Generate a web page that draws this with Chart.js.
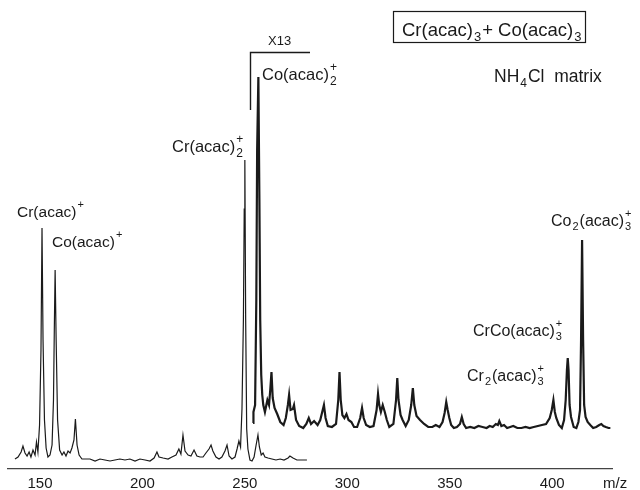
<!DOCTYPE html>
<html>
<head>
<meta charset="utf-8">
<script src="https://cdn.jsdelivr.net/npm/chart.js@4/dist/chart.umd.min.js"></script>
<style>
  html, body { margin: 0; padding: 0; background: #ffffff; }
  #wrap { width: 640px; height: 490px; }
</style>
</head>
<body>
<div id="wrap"><canvas id="c" width="640" height="490"></canvas></div>
<script>
// ---- Data (m/z, relative intensity in arbitrary units) ----
// Main spectrum (full scale)
const mainMz = [137.8,139.3,140.8,141.7,142.7,143.7,144.7,145.6,146.6,147.6,148.3,149.0,149.8,150.5,151.0,151.5,152.2,153.0,153.9,154.9,155.9,156.6,157.0,157.4,157.9,158.6,159.6,160.8,161.7,162.7,163.7,164.7,165.6,166.6,167.3,168.1,169.1,170.5,174.4,176.9,179.3,181.7,184.2,186.6,189.0,191.5,193.9,196.4,198.8,201.3,203.7,205.7,207.1,208.1,210.1,212.5,214.4,216.4,217.8,218.8,219.8,220.8,222.3,223.7,225.2,226.6,228.1,229.6,231.0,232.5,233.5,234.4,235.9,237.4,238.8,240.3,241.3,242.3,243.7,245.2,246.2,247.1,247.9,248.6,249.3,249.7,250.0,250.4,250.9,251.5,252.5,253.5,254.5,255.5,256.4,257.1,258.0,258.9,259.8,261.3,263.2,265.2,267.2,269.1,271.1,272.0,273.5,275.4,277.9,280.3];
const mainInt = [10,12,17,23,16,13,17,12,19,14,27,17,44,119,241,129,49,21,12,14,24,69,139,199,129,49,19,14,17,13,18,16,21,29,50,24,14,10,10,8,10,9,8,9,10,9,10,8,10,9,8,11,17,12,11,10,12,14,20,15,34,18,14,13,19,13,12,12,16,20,24,18,12,10,12,18,24,13,10,12,20,28,22,60,150,260,309,150,40,20,9,8,12,24,34,22,14,16,12,11,10,9,10,9,11,13,11,9,9,9];

// Expanded trace (x13), drawn above the main trace
const x13Mz = [254.0,254.2,255.0,255.6,256.0,256.6,257.1,257.5,258.0,258.5,259.0,259.8,261.0,261.8,262.4,263.0,263.6,264.5,265.8,267.3,268.9,270.0,271.0,271.6,272.3,273.4,274.0,275.0,276.5,278.5,280.0,281.2,282.3,283.8,285.5,286.8,288.0,288.6,289.4,290.5,292.5,294.5,295.6,296.2,296.8,297.6,298.6,299.6,300.6,302.0,303.3,304.8,306.3,307.2,308.0,309.2,311.0,312.8,314.3,315.0,315.6,316.4,317.3,318.3,319.3,320.5,322.5,323.8,324.4,325.0,326.0,327.0,328.5,330.0,331.2,332.0,332.7,333.8,335.5,337.5,339.5,341.5,343.2,345.0,346.5,347.5,348.3,349.0,349.8,350.7,352.0,353.5,355.0,355.9,356.8,358.0,360.0,362.0,364.0,366.0,368.0,369.5,371.0,372.5,373.5,374.2,375.2,376.5,378.0,379.5,381.0,383.0,385.0,387.0,389.0,391.0,393.0,395.0,397.0,398.8,399.8,400.6,401.3,402.0,403.3,404.7,405.8,406.6,407.2,407.6,408.0,408.5,409.2,410.5,411.8,412.8,413.6,414.1,414.6,415.1,415.6,416.3,417.3,418.6,420.0,421.5,423.0,424.0,425.0,426.2,427.5,428.4];
const x13Int = [46,57,64,169,319,392,269,149,94,74,64,57,69,64,79,97,71,61,55,47,44,51,64,74,59,60,64,49,43,41,45,51,45,48,44,49,59,64,51,43,42,45,69,97,69,54,51,55,49,47,42,42,51,61,51,44,42,43,59,75,64,57,64,57,49,42,45,69,91,69,54,49,43,49,64,81,64,53,49,45,42,42,44,42,47,56,67,59,51,44,41,42,45,52,45,41,42,41,43,42,41,43,42,45,44,48,43,44,41,42,43,41,41,42,41,42,43,44,45,51,59,69,57,51,44,41,49,69,99,111,99,64,52,42,41,47,59,129,229,129,64,52,47,44,41,42,44,45,43,42,41,41];

// Axis
const xTicks = [150, 200, 250, 300, 350, 400];
const xMin = 134.4, xMax = 429.2;
const yMin = 0, yMax = 469;

const FONT = '"Liberation Sans", "DejaVu Sans", sans-serif';
const INK = '#1a1a1a';

// Draw a label composed of parts: plain text, subscript, superscript, or stacked sub/sup
function drawLabel(ctx, parts, x, y, size) {
  let cx = x;
  const small = Math.round(size * 0.7);
  for (const p of parts) {
    if (p.t !== undefined) {
      ctx.font = size + 'px ' + FONT;
      ctx.fillText(p.t, cx, y);
      cx += ctx.measureText(p.t).width;
    } else {
      ctx.font = small + 'px ' + FONT;
      let w = 0;
      if (p.sub !== undefined) {
        ctx.fillText(p.sub, cx + 1, y + size * 0.28);
        w = Math.max(w, ctx.measureText(p.sub).width);
      }
      if (p.sup !== undefined) {
        ctx.fillText(p.sup, cx + 1, y - size * 0.55);
        w = Math.max(w, ctx.measureText(p.sup).width);
      }
      cx += w + 2;
    }
  }
  return cx;
}

const annot = {
  id: 'annot',
  afterDraw(chart) {
    const ctx = chart.ctx;
    ctx.save();
    ctx.fillStyle = INK;
    ctx.strokeStyle = INK;
    ctx.textBaseline = 'alphabetic';
    ctx.textAlign = 'left';

    // Title box
    ctx.lineWidth = 1.2;
    ctx.strokeRect(393.5, 11.5, 192, 31);
    drawLabel(ctx, [{t:'Cr(acac)'},{sub:'3'},{t:'+ Co(acac)'},{sub:'3'}], 402, 36, 18.5);

    // Matrix
    drawLabel(ctx, [{t:'NH'},{sub:'4'},{t:'Cl  matrix'}], 494, 82, 17.5);

    // x13 bracket
    ctx.lineWidth = 1.4;
    ctx.beginPath();
    ctx.moveTo(250.5, 110);
    ctx.lineTo(250.5, 52.5);
    ctx.lineTo(310, 52.5);
    ctx.stroke();
    ctx.font = '13px ' + FONT;
    ctx.fillText('X13', 268, 45);

    // Peak labels
    drawLabel(ctx, [{t:'Cr(acac)'},{sup:'+'}], 17, 217, 15.5);
    drawLabel(ctx, [{t:'Co(acac)'},{sup:'+'}], 52, 247, 15.5);
    drawLabel(ctx, [{t:'Cr(acac)'},{sub:'2', sup:'+'}], 172, 152, 16.5);
    drawLabel(ctx, [{t:'Co(acac)'},{sub:'2', sup:'+'}], 262, 80, 16.5);
    drawLabel(ctx, [{t:'Co'},{sub:'2'},{t:'(acac)'},{sub:'3', sup:'+'}], 551, 226, 16);
    drawLabel(ctx, [{t:'CrCo(acac)'},{sub:'3', sup:'+'}], 473, 336, 16);
    drawLabel(ctx, [{t:'Cr'},{sub:'2'},{t:'(acac)'},{sub:'3', sup:'+'}], 467, 381, 16);

    // axis unit
    ctx.font = '15px ' + FONT;
    ctx.fillText('m/z', 603, 488);
    ctx.restore();
  }
};

const ctx = document.getElementById('c').getContext('2d');
new Chart(ctx, {
  type: 'line',
  data: {
    datasets: [
      {
        label: 'main',
        data: mainMz.map((m, i) => ({x: m, y: mainInt[i]})),
        borderColor: INK, borderWidth: 1.2, pointRadius: 0, tension: 0, fill: false
      },
      {
        label: 'x13',
        data: x13Mz.map((m, i) => ({x: m, y: x13Int[i]})),
        borderColor: INK, borderWidth: 2.2, pointRadius: 0, tension: 0, fill: false
      }
    ]
  },
  options: {
    responsive: false,
    animation: false,
    devicePixelRatio: 1,
    layout: { padding: { left: 8, right: 28, top: 0, bottom: 0 } },
    plugins: { legend: { display: false }, tooltip: { enabled: false }, title: { display: false } },
    scales: {
      x: {
        type: 'linear', min: xMin, max: xMax,
        afterBuildTicks: (s) => { s.ticks = xTicks.map(v => ({value: v})); },
        afterFit: (s) => { s.height = 21; },
        grid: { display: false, drawTicks: false },
        border: { display: true, color: '#444', width: 1.2 },
        ticks: { color: INK, font: { family: FONT, size: 15 }, padding: 6, maxRotation: 0, autoSkip: false,
                 callback: (v) => String(v) }
      },
      y: {
        display: false, min: yMin, max: yMax
      }
    }
  },
  plugins: [annot]
});
</script>
</body>
</html>
